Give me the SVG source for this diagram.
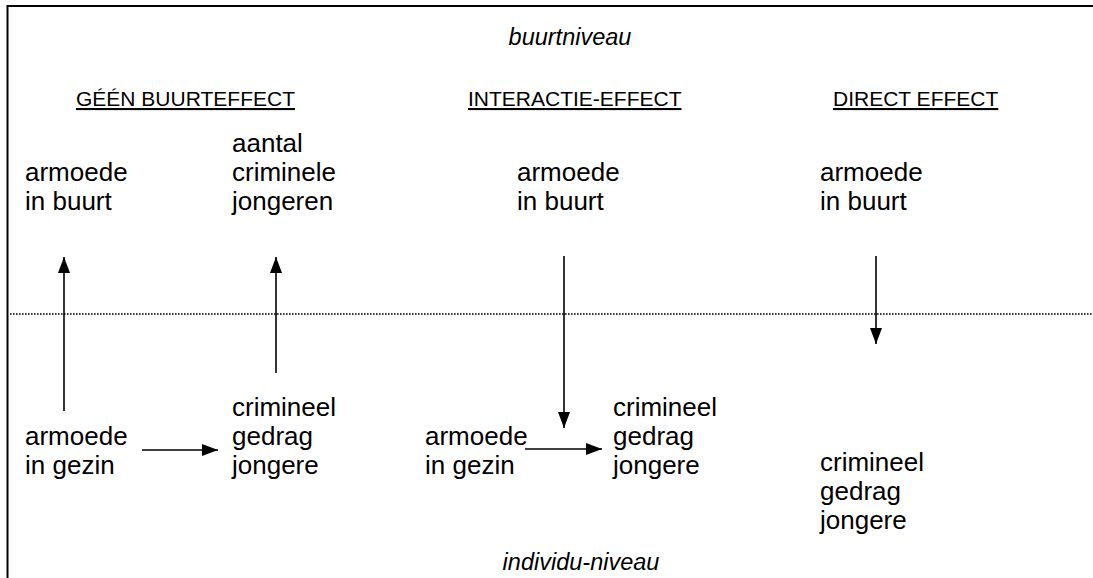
<svg xmlns="http://www.w3.org/2000/svg" width="1093" height="578" viewBox="0 0 1093 578">
<style>
.t{font-family:"Liberation Sans",Arial,sans-serif;font-size:26px;fill:#000}
.h{font-family:"Liberation Sans",Arial,sans-serif;font-size:21px;fill:#000;text-decoration:underline}
.i{font-family:"Liberation Sans",Arial,sans-serif;font-size:23.5px;font-style:italic;fill:#000}
.c{stroke:#000;stroke-width:1.6;fill:none;marker-end:url(#ah)}
</style>
<defs>
<marker id="ah" markerUnits="userSpaceOnUse" markerWidth="17" markerHeight="13" refX="16" refY="6" orient="auto" viewBox="0 0 17 13">
<path d="M0,0 L16,6 L0,12 z" fill="#000"/>
</marker>
</defs>
<rect width="1093" height="578" fill="#fff"/>
<g id="frame">
<path d="M7.5,578 V6 H1093" stroke="#000" stroke-width="2" fill="none"/>
<line x1="10" y1="314" x2="1093" y2="314" stroke="#000" stroke-width="1.3" stroke-dasharray="1.6 1.4"/>
</g>
<g id="levels">
<text class="i" x="570" y="45" text-anchor="middle">buurtniveau</text>
<text class="i" x="581" y="570" text-anchor="middle">individu-niveau</text>
</g>
<g id="headers">
<text class="h" x="76" y="106">GÉÉN BUURTEFFECT</text>
<text class="h" x="468" y="106">INTERACTIE-EFFECT</text>
<text class="h" x="833" y="106">DIRECT EFFECT</text>
</g>
<g id="n1"><text class="t" x="25" y="181">armoede</text><text class="t" x="25" y="210">in buurt</text></g>
<g id="n2"><text class="t" x="232" y="152">aantal</text><text class="t" x="232" y="181">criminele</text><text class="t" x="232" y="210">jongeren</text></g>
<g id="n3"><text class="t" x="25" y="445">armoede</text><text class="t" x="25" y="474">in gezin</text></g>
<g id="n4"><text class="t" x="232" y="416">crimineel</text><text class="t" x="232" y="445">gedrag</text><text class="t" x="232" y="474">jongere</text></g>
<g id="n5"><text class="t" x="517" y="181">armoede</text><text class="t" x="517" y="210">in buurt</text></g>
<g id="n6"><text class="t" x="425" y="445">armoede</text><text class="t" x="425" y="474">in gezin</text></g>
<g id="n7"><text class="t" x="613" y="416">crimineel</text><text class="t" x="613" y="445">gedrag</text><text class="t" x="613" y="474">jongere</text></g>
<g id="n8"><text class="t" x="820" y="181">armoede</text><text class="t" x="820" y="210">in buurt</text></g>
<g id="n9"><text class="t" x="820" y="471">crimineel</text><text class="t" x="820" y="500">gedrag</text><text class="t" x="820" y="529">jongere</text></g>
<g id="connectors">
<line class="c" x1="64" y1="411" x2="64" y2="257"/>
<line class="c" x1="276" y1="373" x2="276" y2="257"/>
<line class="c" x1="142" y1="450" x2="218" y2="450"/>
<line class="c" x1="564" y1="256" x2="564" y2="428"/>
<line class="c" x1="525" y1="449" x2="602" y2="449"/>
<line class="c" x1="876" y1="256" x2="876" y2="344"/>
</g>
</svg>
